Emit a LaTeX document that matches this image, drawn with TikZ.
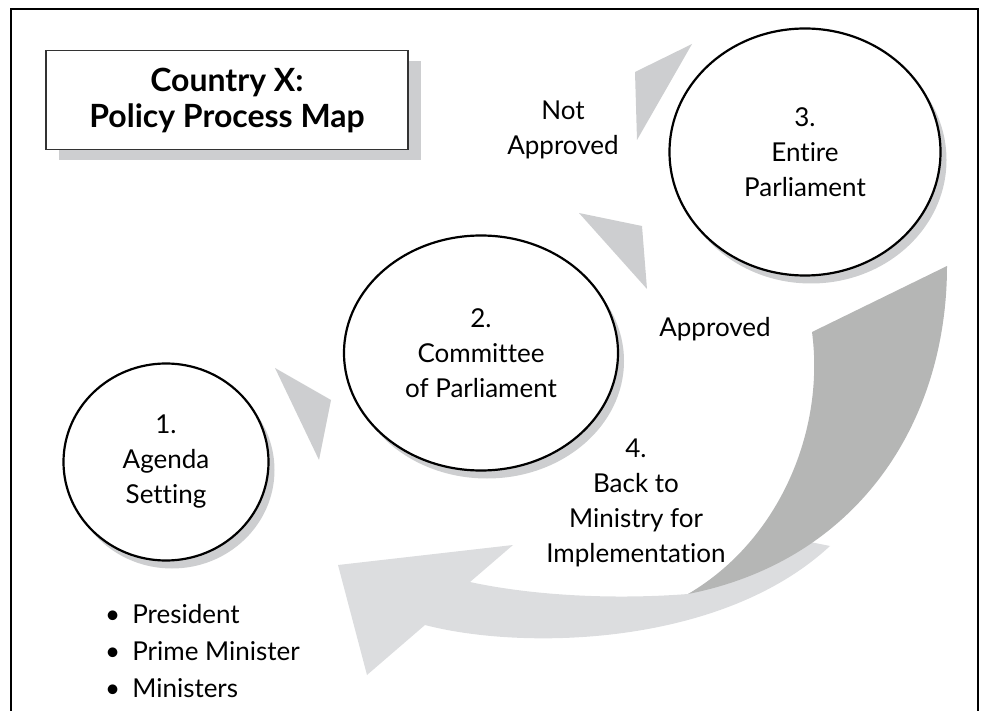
\documentclass[tikz,border=0pt]{standalone}
\usepackage{fontspec}
\setmainfont[Ligatures=NoCommon]{Lato}
\usetikzlibrary{shapes.geometric,shadows,positioning,calc}

\definecolor{wedgegray}{RGB}{205,206,208}
\definecolor{ribbonlight}{RGB}{220,221,223}
\definecolor{ribbondark}{RGB}{181,182,181}
\definecolor{shadowgray}{RGB}{205,206,208}

\begin{document}
\begin{tikzpicture}[
    x=1pt, y=-1pt,
    stage/.style={ellipse, draw, line width=2.2pt, fill=white, align=center, inner sep=0pt, font=\fontsize{26}{35}\selectfont, drop shadow={shadow xshift=6pt, shadow yshift=-8pt, fill=shadowgray, opacity=1}},
    titlebox/.style={rectangle, draw=black!80, line width=1.2pt, fill=white, align=center, minimum width=362pt, minimum height=99pt, font=\fontsize{32}{36}\selectfont\bfseries, drop shadow={shadow xshift=13pt, shadow yshift=-11pt, fill=shadowgray, opacity=1}},
    note/.style={align=center, inner sep=0pt, font=\fontsize{26}{35}\selectfont},
    wedge/.style={fill=wedgegray, draw=none}
]
    \useasboundingbox (0,0) rectangle (983,711);
    % Frame
    \draw[line width=2.5pt] (11,711) -- (11,9) -- (978,9) -- (978,711);

    % Wedges between the stages
    \fill[wedge] (275,368) -- (331,400) -- (319,460) -- cycle;
    \fill[wedge] (579,213) -- (642,226) -- (647,289) -- cycle;
    \fill[wedge] (635,72) -- (692,44) -- (637,140) -- cycle;

    % Ribbon arrow back to the ministry
    \fill[ribbonlight] (800,540) -- (688,594) .. controls (610,600) and (530,595) .. (470,582)
        -- (513,545) -- (338,565) -- (367,675) -- (425,625)
        .. controls (520,650) and (720,648) .. (830,546) -- cycle;
    \fill[ribbondark] (947,266) .. controls (947,420) and (860,560) .. (688,594)
        .. controls (780,540) and (825,430) .. (812,332) -- cycle;

    % Nodes
    \node [titlebox] (title) at (227,100) {Country X:\\Policy Process Map};
    \node [stage, minimum width=205pt, minimum height=197pt] (agenda) at (166,462) {1.\\Agenda\\Setting};
    \node [stage, minimum width=274pt, minimum height=235pt] (committee) at (481,353) {2.\\Committee\\of Parliament};
    \node [stage, minimum width=271pt, minimum height=247pt] (parliament) at (805,152) {3.\\Entire\\Parliament};

    % Labels
    \node [note] (notapproved) at (563,130) {Not\\Approved};
    \node [note] (approved) at (715,329) {Approved};
    \node [note] (backto) at (636,503) {4.\\Back to\\Ministry for\\Implementation};
    \node [note, align=left, anchor=west, font=\fontsize{26}{37}\selectfont] (roles) at (105,651)
        {\textbullet\hspace{12pt}President\\\textbullet\hspace{12pt}Prime Minister\\\textbullet\hspace{12pt}Ministers};
\end{tikzpicture}
\end{document}
